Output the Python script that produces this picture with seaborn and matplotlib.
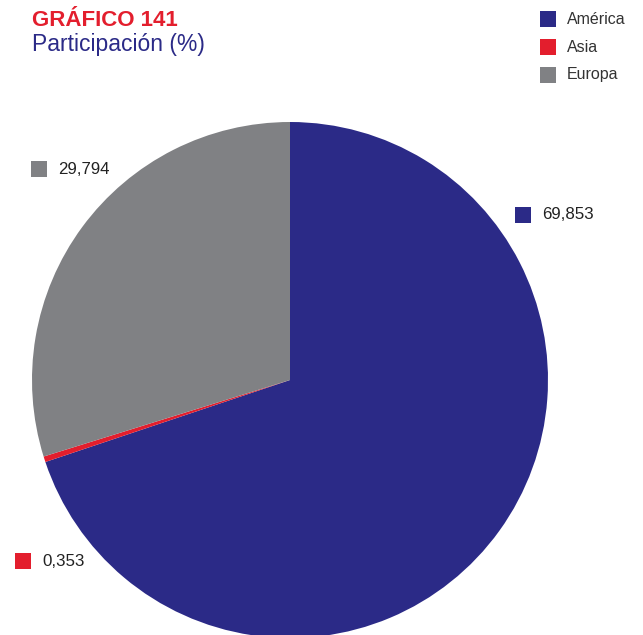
import matplotlib
matplotlib.use("Agg")
import matplotlib.pyplot as plt
from matplotlib.patches import Rectangle
import seaborn as sns

# Participation shares (%) by region
regions = ["América", "Asia", "Europa"]
shares = [69.853, 0.353, 29.794]
share_labels = ["69,853", "0,353", "29,794"]
colors = ["#2B2A87", "#E31E2D", "#808184"]

sns.set_theme(style="white")
plt.rcParams["font.family"] = ["Liberation Sans", "DejaVu Sans"]

W, H = 643, 635
fig = plt.figure(figsize=(W / 100, H / 100), dpi=100)
fig.patch.set_facecolor("white")

# Pie placed by pixel geometry: centre (290, 380), radius 258
cx, cy, r = 290, 380, 258
ax = fig.add_axes([(cx - r) / W, (H - cy - r) / H, 2 * r / W, 2 * r / H])
wedges, _ = ax.pie(shares, colors=colors, startangle=90, counterclock=False,
                   radius=1, wedgeprops=dict(linewidth=0))
ax.set_xlim(-1, 1)
ax.set_ylim(-1, 1)
ax.set_aspect("equal")
ax.axis("off")


def px_rect(x, y, size, color):
    fig.add_artist(Rectangle((x / W, (H - y - size) / H), size / W, size / H,
                             transform=fig.transFigure, facecolor=color,
                             edgecolor="none"))


def px_text(x, y, s, **kw):
    fig.text(x / W, (H - y) / H, s, va="center", ha="left", **kw)


# Value labels with colour keys
label_pos = {"América": (515, 207), "Asia": (15, 553), "Europa": (31, 161)}
for name, lab, col in zip(regions, share_labels, colors):
    x, y = label_pos[name]
    px_rect(x, y, 16, col)
    px_text(x + 27, y + 8, lab, fontsize=12.2, color="#222222")

# Legend
for i, (name, col) in enumerate(zip(regions, colors)):
    y = 11 + i * 28
    px_rect(540, y, 16, col)
    px_text(567, y + 8, name, fontsize=11.5, color="#333333")

# Titles
px_text(32, 20, "GRÁFICO 141", fontsize=16, fontweight="bold", color="#E31E2D")
px_text(32, 45, "Participación (%)", fontsize=16.5, color="#2B2A87")

fig.savefig("out.png", dpi=100, facecolor="white")
